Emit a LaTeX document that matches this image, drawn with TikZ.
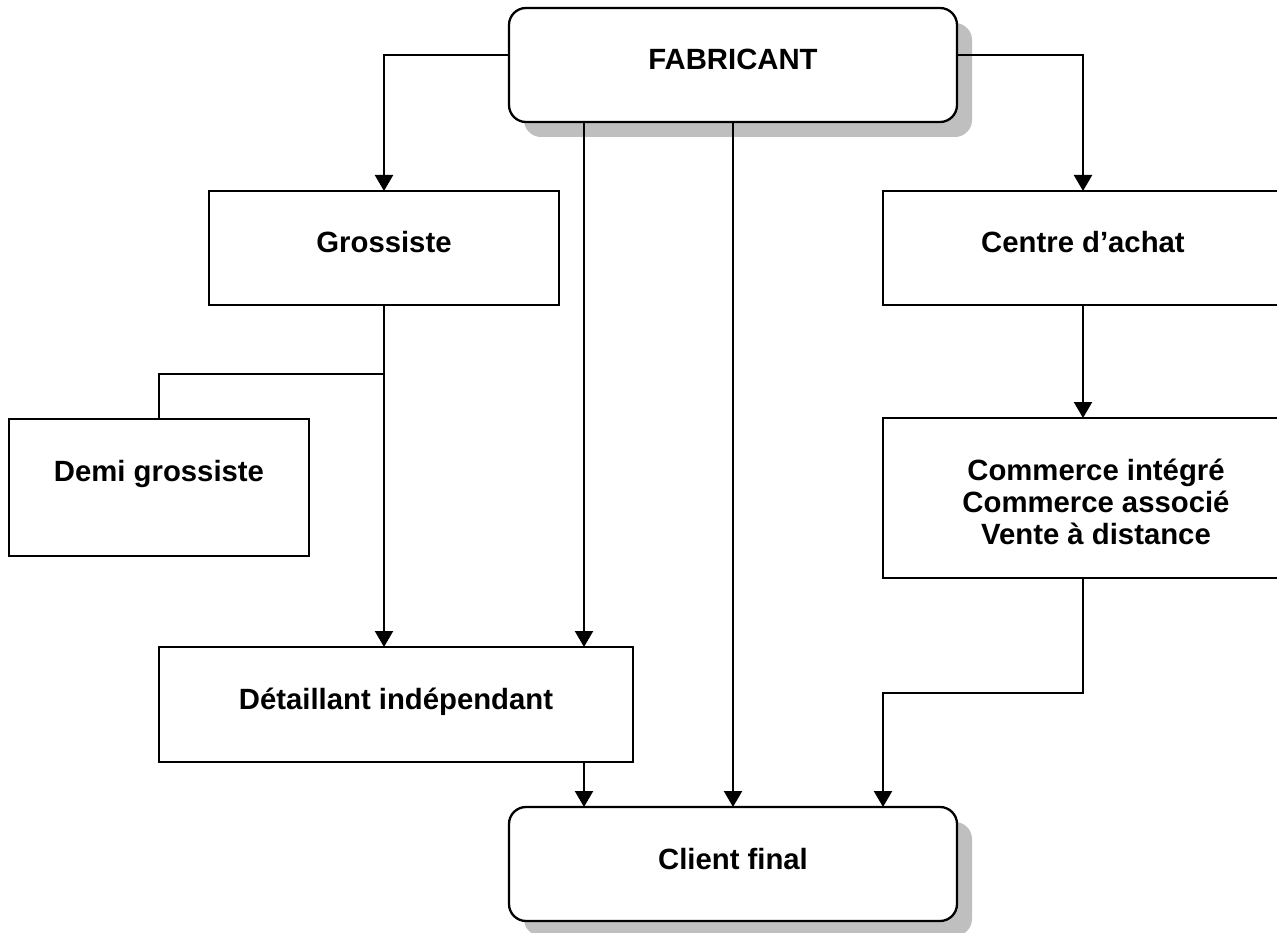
\documentclass[tikz,border=0pt]{standalone}
\usepackage{fontspec}
\setmainfont{Liberation Sans}
\usetikzlibrary{arrows.meta,shadows}

\begin{document}
\begin{tikzpicture}[x=1pt,y=-1pt,
  box/.style={draw,line width=2.3pt,fill=white,inner sep=0pt,outer sep=0pt,
    anchor=north west,align=center,
    font=\fontsize{29.3}{32}\selectfont\bfseries,text height=62pt},
  roundbox/.style={box,rounded corners=17pt,
    drop shadow={shadow xshift=15pt,shadow yshift=-15pt,opacity=1,fill=black!25,draw=none}},
  link/.style={line width=2.3pt},
  arr/.style={link,-{Triangle[width=18pt,length=16pt]}}]

\useasboundingbox (0,0) rectangle (1277,933);
\clip (0,0) rectangle (1277,933);

% boxes (the text baseline sits 62pt below each top edge)
\node[roundbox,minimum width=448pt,text depth=52pt] (fab) at (509,8) {FABRICANT};
\node[box,minimum width=350pt,text depth=52pt] (gros) at (209,191) {Grossiste};
\node[box,minimum width=400pt,text depth=52pt] (centre) at (883,191) {Centre d’achat};
\node[box,minimum width=300pt,text depth=75pt] (demi) at (9,419) {Demi grossiste};
\node[box,minimum width=426pt,text height=126pt,text depth=34pt] (comm) at (883,418)
  {Commerce intégré\\Commerce associé\\Vente à distance};
\node[box,minimum width=474pt,text depth=53pt] (det) at (159,647) {Détaillant indépendant};
\node[roundbox,minimum width=448pt,text depth=52pt] (client) at (509,807) {Client final};

% connectors
\coordinate (f1) at ([xshift=75pt]fab.south west);
\draw[arr] ([yshift=10pt]fab.west) -| (gros.north);
\draw[arr] ([yshift=10pt]fab.east) -| (centre.north);
\draw[arr] (f1) -- (f1 |- det.north);
\draw[arr] (fab.south) -- (client.north);
\draw[arr] (gros.south) -- (gros.south |- det.north);
\draw[link] ([yshift=-69pt]gros.south) -| (demi.north);
\draw[arr] (f1 |- det.south) -- (f1 |- client.north);
\draw[arr] (centre.south) -- (centre.south |- comm.north);
\draw[arr] (centre.south |- comm.south) -- ++(0,115) -| ([xshift=-74pt]client.north east);
\end{tikzpicture}
\end{document}
